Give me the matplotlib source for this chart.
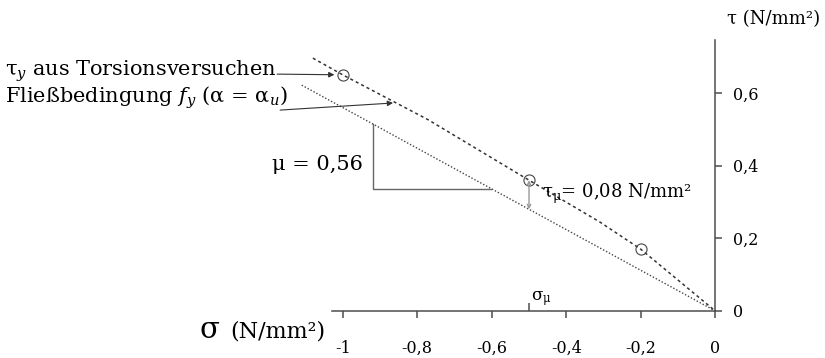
import numpy as np
import matplotlib
matplotlib.use("Agg")
import matplotlib.pyplot as plt

plt.rcParams["font.family"] = ["DejaVu Serif"]
plt.rcParams["mathtext.fontset"] = "dejavuserif"

# Data (sigma, tau in N/mm^2)
mu = 0.56
tau_mu = 0.08
sigma_mu = -0.5

# measured shear strength from torsion tests
test_sigma = [-1.0, -0.5, -0.2]
test_tau = [0.65, 0.36, 0.17]

# curve through the torsion test results
curve_sigma = [-1.08, -1.0, -0.77, -0.5, -0.31, -0.2, 0.0]
curve_tau = [0.696, 0.65, 0.526, 0.36, 0.245, 0.17, 0.0]

# yield condition line tau = -mu * sigma
yield_sigma = [-1.11, 0.0]

x_ticks = [-1.0, -0.8, -0.6, -0.4, -0.2, 0.0]
x_tick_labels = ["-1", "-0,8", "-0,6", "-0,4", "-0,2", "0"]
y_ticks = [0.0, 0.2, 0.4, 0.6]
y_tick_labels = ["0", "0,2", "0,4", "0,6"]

axis_color = "#4d4d4d"
line_color = "#333333"

fig = plt.figure(figsize=(8.25, 3.58), dpi=100)
ax = fig.add_axes([0, 0, 1, 1])
ax.set_xlim(-1.9198, 0.2944)
ax.set_ylim(-0.1294, 0.856)
ax.patch.set_alpha(0)

# axes crossing at the origin
for side in ["top", "left"]:
    ax.spines[side].set_visible(False)
ax.spines["bottom"].set_position(("data", 0))
ax.spines["right"].set_position(("data", 0))
ax.spines["bottom"].set_bounds(-1.03, 0)
ax.spines["right"].set_bounds(0, 0.745)
for side in ["bottom", "right"]:
    ax.spines[side].set_color(axis_color)
    ax.spines[side].set_linewidth(1.1)

ax.yaxis.tick_right()
ax.set_xticks(x_ticks)
ax.set_xticklabels(x_tick_labels)
ax.set_yticks(y_ticks)
ax.set_yticklabels(y_tick_labels)
ax.tick_params(axis="x", direction="out", length=5, width=1.1, color=axis_color,
               pad=16, labelsize=11.5)
ax.tick_params(axis="y", direction="out", length=5, width=1.1, color=axis_color,
               pad=8, labelsize=11.5)

# sigma_mu tick above the axis
ax.plot([sigma_mu], [0], marker=2, ms=6, mew=1.1, color=axis_color, clip_on=False)
ax.text(sigma_mu + 0.006, 0.03, r"σ$_{\mathrm{\mu}}$", fontsize=12, ha="left", va="baseline")

# yield condition (dotted) and test curve (dashed)
yield_sigma = np.array(yield_sigma)
ax.plot(yield_sigma, -mu * yield_sigma, color="#444444", lw=1.0, ls=(0, (1, 1.4)))
ax.plot(curve_sigma, curve_tau, color=line_color, lw=1.1, ls=(0, (2, 2)))
ax.plot(test_sigma, test_tau, ls="none", marker="o", ms=8, mfc="none",
        mec="#444444", mew=0.8)

# slope triangle for mu
tri_x = -0.92
tri_y = 0.337
ax.plot([tri_x, tri_x, -tri_y / mu], [-mu * tri_x, tri_y, tri_y],
        color="#666666", lw=1.0)
ax.text(-1.19, 0.388, "μ = 0,56", fontsize=15, ha="left", va="baseline")

# offset tau_mu between the two lines at sigma_mu
low = -mu * sigma_mu
ax.annotate("", xy=(sigma_mu, low + tau_mu), xytext=(sigma_mu, low),
            arrowprops=dict(arrowstyle="<->", color="#999999", lw=1.0,
                            mutation_scale=6, shrinkA=0, shrinkB=0))
ax.text(-0.465, 0.311, r"τ$_{\mathrm{\mu}}$= 0,08 N/mm²", fontsize=13,
        ha="left", va="baseline")

# labels with arrows
ax.text(-1.906, 0.647, r"τ$_y$ aus Torsionsversuchen", fontsize=15,
        ha="left", va="baseline")
ax.annotate("", xy=(test_sigma[0], test_tau[0]), xytext=(-1.176, 0.652),
            arrowprops=dict(arrowstyle="-|>", color=line_color, lw=0.8,
                            mutation_scale=8, shrinkA=0, shrinkB=6))
ax.text(-1.906, 0.5725, r"Fließbedingung $f_y$ (α = α$_u$)", fontsize=15,
        ha="left", va="baseline")
ax.annotate("", xy=(-0.865, 0.5725), xytext=(-1.168, 0.553),
            arrowprops=dict(arrowstyle="-|>", color=line_color, lw=0.8,
                            mutation_scale=8, shrinkA=0, shrinkB=0))

# axis titles
ax.text(0.031, 0.79, "τ (N/mm²)", fontsize=13, ha="left", va="baseline")
ax.text(-1.0475, -0.074, "(N/mm²)", fontsize=16, ha="right", va="baseline")
ax.text(-1.33, -0.074, "σ", fontsize=21, ha="right", va="baseline")

fig.savefig("out.png", dpi=100)
plt.close(fig)
